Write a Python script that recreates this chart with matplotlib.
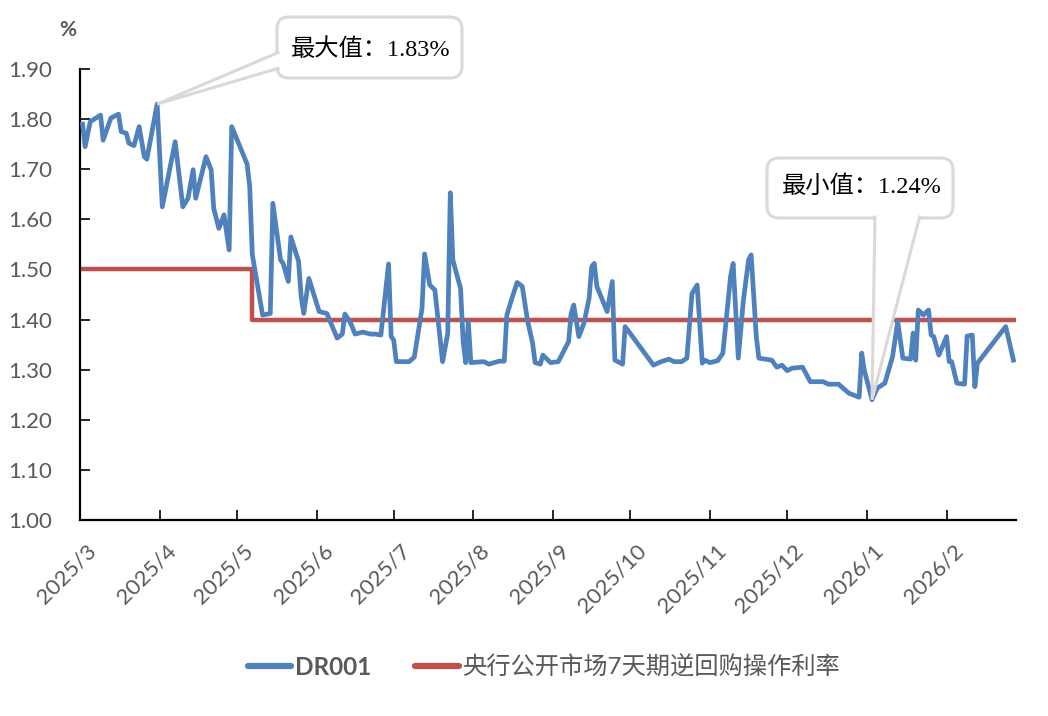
import matplotlib.pyplot as plt
import matplotlib.dates as mdates
import matplotlib.transforms as mtransforms
from matplotlib.patches import FancyBboxPatch, Polygon
import numpy as np
import pandas as pd

plt.rcParams["font.family"] = ["Lato", "Noto Sans CJK SC", "DejaVu Sans"]

# DR001 daily rate
dr_dates = [
    "2025-03-02", "2025-03-03", "2025-03-05", "2025-03-09", "2025-03-10",
    "2025-03-13", "2025-03-16", "2025-03-17", "2025-03-19", "2025-03-20",
    "2025-03-22", "2025-03-24", "2025-03-26", "2025-03-27", "2025-03-31",
    "2025-04-02", "2025-04-07", "2025-04-10", "2025-04-12", "2025-04-14",
    "2025-04-15", "2025-04-19", "2025-04-21", "2025-04-22", "2025-04-24",
    "2025-04-26", "2025-04-28", "2025-04-29", "2025-05-05", "2025-05-06",
    "2025-05-07", "2025-05-11", "2025-05-14", "2025-05-15", "2025-05-18",
    "2025-05-19", "2025-05-21", "2025-05-22", "2025-05-25", "2025-05-26",
    "2025-05-27", "2025-05-29", "2025-06-02", "2025-06-05", "2025-06-09",
    "2025-06-11", "2025-06-12", "2025-06-14", "2025-06-16", "2025-06-19",
    "2025-06-22", "2025-06-24", "2025-06-26", "2025-06-29", "2025-06-30",
    "2025-07-01", "2025-07-02", "2025-07-07", "2025-07-09", "2025-07-12",
    "2025-07-13", "2025-07-15", "2025-07-17", "2025-07-20", "2025-07-22",
    "2025-07-23", "2025-07-24", "2025-07-27", "2025-07-28", "2025-07-29",
    "2025-07-30", "2025-07-31", "2025-08-05", "2025-08-07", "2025-08-11",
    "2025-08-13", "2025-08-14", "2025-08-16", "2025-08-18", "2025-08-20",
    "2025-08-22", "2025-08-24", "2025-08-25", "2025-08-27", "2025-08-28",
    "2025-08-31", "2025-09-03", "2025-09-07", "2025-09-08", "2025-09-09",
    "2025-09-11", "2025-09-13", "2025-09-15", "2025-09-16", "2025-09-17",
    "2025-09-18", "2025-09-22", "2025-09-24", "2025-09-25", "2025-09-28",
    "2025-09-29", "2025-10-10", "2025-10-13", "2025-10-16", "2025-10-18",
    "2025-10-21", "2025-10-23", "2025-10-25", "2025-10-27", "2025-10-29",
    "2025-10-30", "2025-11-01", "2025-11-04", "2025-11-06", "2025-11-09",
    "2025-11-10", "2025-11-12", "2025-11-14", "2025-11-16", "2025-11-17",
    "2025-11-19", "2025-11-20", "2025-11-25", "2025-11-27", "2025-11-29",
    "2025-12-01", "2025-12-03", "2025-12-07", "2025-12-10", "2025-12-15",
    "2025-12-17", "2025-12-21", "2025-12-25", "2025-12-29", "2025-12-30",
    "2025-12-31", "2026-01-03", "2026-01-05", "2026-01-08", "2026-01-11",
    "2026-01-13", "2026-01-15", "2026-01-18", "2026-01-19", "2026-01-20",
    "2026-01-21", "2026-01-23", "2026-01-25", "2026-01-26", "2026-01-27",
    "2026-01-29", "2026-02-01", "2026-02-02", "2026-02-03", "2026-02-05",
    "2026-02-08", "2026-02-09", "2026-02-11", "2026-02-12", "2026-02-13",
    "2026-02-24", "2026-02-27",
]
dr_values = [
    1.790, 1.745, 1.795, 1.808, 1.758, 1.802, 1.810, 1.775, 1.772, 1.752,
    1.747, 1.785, 1.725, 1.720, 1.830, 1.625, 1.755, 1.625, 1.642, 1.699,
    1.642, 1.725, 1.699, 1.622, 1.582, 1.609, 1.539, 1.785, 1.710, 1.665,
    1.530, 1.409, 1.412, 1.632, 1.519, 1.512, 1.476, 1.565, 1.516, 1.446,
    1.412, 1.482, 1.416, 1.412, 1.363, 1.371, 1.411, 1.396, 1.371, 1.375,
    1.371, 1.371, 1.369, 1.511, 1.366, 1.359, 1.316, 1.316, 1.325, 1.422,
    1.531, 1.469, 1.459, 1.316, 1.372, 1.653, 1.519, 1.462, 1.356, 1.314,
    1.396, 1.314, 1.316, 1.311, 1.317, 1.317, 1.409, 1.443, 1.474, 1.466,
    1.399, 1.353, 1.314, 1.311, 1.329, 1.314, 1.316, 1.356, 1.412, 1.429,
    1.366, 1.393, 1.443, 1.506, 1.512, 1.466, 1.416, 1.476, 1.319, 1.311,
    1.386, 1.309, 1.316, 1.321, 1.316, 1.316, 1.323, 1.452, 1.469, 1.313,
    1.319, 1.314, 1.318, 1.333, 1.486, 1.512, 1.323, 1.439, 1.519, 1.529,
    1.366, 1.323, 1.319, 1.305, 1.309, 1.298, 1.303, 1.305, 1.276, 1.276,
    1.271, 1.271, 1.253, 1.245, 1.333, 1.299, 1.240, 1.263, 1.273, 1.326,
    1.396, 1.323, 1.321, 1.373, 1.319, 1.419, 1.409, 1.419, 1.369, 1.366,
    1.329, 1.366, 1.316, 1.316, 1.273, 1.271, 1.367, 1.369, 1.266, 1.313,
    1.386, 1.319,
]

# PBOC 7-day reverse repo operation rate
policy_dates = ["2025-03-01", "2025-05-07", "2026-02-28"]
policy_values = [1.50, 1.40, 1.40]

max_label = "最大值：1.83%"
min_label = "最小值：1.24%"

blue = "#4F81BD"
red = "#C0504D"
grey = "#595959"
box_grey = "#D9D9D9"
W, H = 1048, 716

dr_x = pd.to_datetime(dr_dates)
pol_x = pd.to_datetime(policy_dates)

fig = plt.figure(figsize=(W / 100, H / 100), dpi=100)
ax = fig.add_axes([80 / W, 1 - 520 / H, 936 / W, 451 / H])

ax.plot(dr_x, dr_values, color=blue, lw=3.4, label="DR001", zorder=3,
        solid_joinstyle="round")
ax.plot(pol_x, policy_values, color=red, lw=3.2, drawstyle="steps-post",
        label="央行公开市场7天期逆回购操作利率", zorder=2)

ax.set_xlim(pd.Timestamp("2025-03-01"), pd.Timestamp("2026-02-28"))
ax.set_ylim(1.0, 1.9)
ax.set_yticks(np.arange(1.0, 1.91, 0.1))
ax.yaxis.set_major_formatter(plt.FuncFormatter(lambda v, _: f"{v:.2f}"))

ax.xaxis.set_major_locator(mdates.MonthLocator())
ax.xaxis.set_major_formatter(
    plt.FuncFormatter(lambda v, _: f"{mdates.num2date(v).year}/{mdates.num2date(v).month}"))

for s in ["top", "right"]:
    ax.spines[s].set_visible(False)
for s in ["left", "bottom"]:
    ax.spines[s].set_linewidth(1.6)
ax.tick_params(direction="in", length=7, width=1.2, labelsize=16,
               labelcolor=grey)
ax.tick_params(axis="y", pad=20)
ax.tick_params(axis="x", pad=15)
shift = mtransforms.ScaledTranslation(6 / 100, 0, fig.dpi_scale_trans)
for lab in ax.get_xticklabels():
    lab.set_rotation(45)
    lab.set_ha("right")
    lab.set_rotation_mode("anchor")
    lab.set_transform(lab.get_transform() + shift)

fig.text(68 / W, 1 - 30 / H, "%", fontsize=15, color=grey, ha="center",
         va="center", fontweight="bold")


# callouts: rounded box in pixel coordinates with a wedge to the data point
def callout(box, base, tip, text, text_xy):
    x0, y0, x1, y1 = box  # top-origin pixels
    patch = FancyBboxPatch((x0, H - y1), x1 - x0, y1 - y0,
                           boxstyle="round,pad=0,rounding_size=12",
                           fc="white", ec=box_grey, lw=2.2,
                           transform=mtransforms.IdentityTransform(), zorder=10)
    fig.add_artist(patch)
    tx, ty = ax.transData.transform((mdates.date2num(tip[0]), tip[1]))
    (bx1, by1), (bx2, by2) = base
    wedge = Polygon([(bx1, H - by1), (tx, ty), (bx2, H - by2)], closed=False,
                    fc="white", ec=box_grey, lw=2.2, joinstyle="miter",
                    transform=mtransforms.IdentityTransform(), zorder=11)
    fig.add_artist(wedge)
    fig.text(text_xy[0] / W, 1 - text_xy[1] / H, text, fontsize=17.5,
             color="black", ha="center", va="center", zorder=12,
             family=["Liberation Serif", "Noto Sans CJK SC"])


i_max = int(np.argmax(dr_values))
i_min = int(np.argmin(dr_values))
callout((277, 17, 462, 78), [(279.5, 52), (279.5, 68)],
        (dr_x[i_max], dr_values[i_max]), max_label, (371, 50))
callout((767, 158, 953, 218), [(875, 215.5), (920, 215.5)],
        (dr_x[i_min], dr_values[i_min]), min_label, (862, 187))

leg = fig.legend(loc="center", bbox_to_anchor=(544 / W, 1 - 667 / H), ncol=2,
                 frameon=False, fontsize=17.5, labelcolor=grey,
                 handlelength=1.8, handletextpad=0.15, columnspacing=1.8)
leg.get_texts()[0].set_fontweight("bold")
for h in leg.get_lines():
    h.set_linewidth(4.5)
    h.set_solid_capstyle("round")

fig.savefig("out.png", dpi=100)
